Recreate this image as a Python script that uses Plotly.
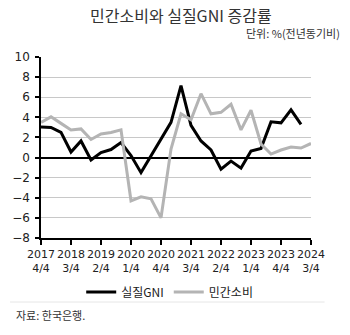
import plotly.graph_objects as go

quarters = [
    "2017Q4", "2018Q1", "2018Q2", "2018Q3", "2018Q4", "2019Q1", "2019Q2", "2019Q3",
    "2019Q4", "2020Q1", "2020Q2", "2020Q3", "2020Q4", "2021Q1", "2021Q2", "2021Q3",
    "2021Q4", "2022Q1", "2022Q2", "2022Q3", "2022Q4", "2023Q1", "2023Q2", "2023Q3",
    "2023Q4", "2024Q1", "2024Q2", "2024Q3",
]
real_gni = [
    3.05, 3.0, 2.5, 0.55, 1.65, -0.25, 0.5, 0.8,
    1.5, 0.2, -1.5, 0.15, 1.75, 3.5, 7.15, 3.2,
    1.65, 0.75, -1.15, -0.35, -1.05, 0.65, 0.9, 3.55,
    3.45, 4.75, 3.3, None,
]
private_consumption = [
    3.5, 4.05, 3.4, 2.75, 2.85, 1.8, 2.35, 2.5,
    2.75, -4.3, -3.9, -4.1, -6.0, 0.85, 4.35, 3.75,
    6.35, 4.35, 4.5, 5.3, 2.75, 4.7, 1.35, 0.35,
    0.75, 1.05, 0.95, 1.4,
]
tick_index = [0, 3, 6, 9, 12, 15, 18, 21, 24, 27]
tick_text = ["2017<br>4/4", "2018<br>3/4", "2019<br>2/4", "2020<br>1/4", "2020<br>4/4",
             "2021<br>3/4", "2022<br>2/4", "2023<br>1/4", "2023<br>4/4", "2024<br>3/4"]
y_ticks = list(range(-8, 11, 2))

x = list(range(len(quarters)))
KR = "Noto Sans CJK KR"
NUM = "DejaVu Sans"

W, H = 350, 335
ml, mr, mt, mb = 32, 39, 57, 97
pw, ph = W - ml - mr, H - mt - mb
def px_to_paper(px, py):
    return (px - ml) / pw, (H - mb - py) / ph

fig = go.Figure()
fig.add_trace(go.Scatter(x=x, y=real_gni, mode="lines", name="실질GNI",
                         line=dict(color="#000000", width=3)))
fig.add_trace(go.Scatter(x=x, y=private_consumption, mode="lines", name="민간소비",
                         line=dict(color="#b4b4b4", width=3)))

title_xy = px_to_paper(177, 15)
unit_xy = px_to_paper(343, 33)
src_xy = px_to_paper(4, 315)
lx0, ly = px_to_paper(0, 302)
lx1, _ = px_to_paper(325, 302)
leg_x, leg_y = px_to_paper(165, 292)

fig.update_layout(
    width=W, height=H,
    margin=dict(l=ml, r=mr, t=mt, b=mb),
    paper_bgcolor="white", plot_bgcolor="white",
    showlegend=True,
    legend=dict(orientation="h", x=leg_x, xanchor="center", y=leg_y, yanchor="middle",
                font=dict(family=KR, size=12, color="#222"), itemwidth=30,
                tracegroupgap=0, bgcolor="rgba(0,0,0,0)"),
    xaxis=dict(range=[0, 27], tickvals=tick_index, ticktext=tick_text, tickangle=0,
               showgrid=False, showline=True, linecolor="#000", linewidth=1.5,
               ticks="outside", ticklen=5, tickcolor="#000", tickwidth=1.5,
               tickfont=dict(family=NUM, size=11, color="#222"), zeroline=False),
    yaxis=dict(range=[-8, 10], tickvals=y_ticks, showgrid=True, gridcolor="#c8c8c8",
               gridwidth=1, showline=True, linecolor="#000", linewidth=1.5,
               ticks="outside", ticklen=4, tickcolor="#000", tickwidth=1.5,
               ticklabelstandoff=3,
               tickfont=dict(family=NUM, size=12, color="#222"),
               zeroline=True, zerolinecolor="#000", zerolinewidth=2.2),
    annotations=[
        dict(text="민간소비와 실질GNI 증감률", x=title_xy[0], y=title_xy[1],
             xref="paper", yref="paper", yanchor="middle", showarrow=False,
             font=dict(family=KR, size=16, color="#333")),
        dict(text="단위: %(전년동기비)", x=unit_xy[0], y=unit_xy[1],
             xref="paper", yref="paper", xanchor="right", yanchor="middle", showarrow=False,
             font=dict(family=KR, size=11, color="#333")),
        dict(text="자료: 한국은행.", x=src_xy[0], y=src_xy[1],
             xref="paper", yref="paper", xanchor="left", yanchor="middle", showarrow=False,
             font=dict(family=KR, size=11, color="#333")),
    ],
    shapes=[dict(type="line", xref="paper", yref="paper", x0=lx0, x1=lx1, y0=ly, y1=ly,
                 line=dict(color="#e6e6e6", width=1))],
)

fig.write_html("out.html")
